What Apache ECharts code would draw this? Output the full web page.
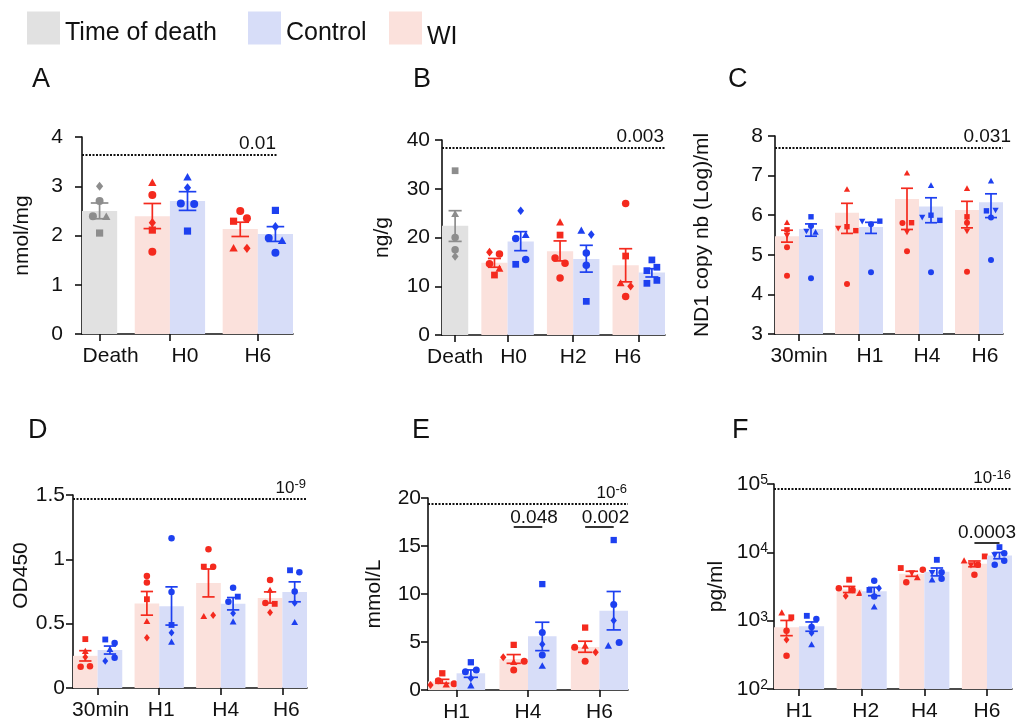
<!DOCTYPE html>
<html><head><meta charset="utf-8">
<script src="https://cdn.jsdelivr.net/npm/echarts@6/dist/echarts.min.js"></script>
<style>html,body{margin:0;padding:0;background:#fff}#c{width:1023px;height:720px}</style>
</head><body><div id="c"></div>
<script>
// ================= DATA =================
// Panel A — nmol/mg
const A_categories = ['Death', 'H0', 'H6'];
const A_death_points = [[3.00, 2.70, 2.39, 2.38, 2.05]];
const A_death_mean = [2.50];
const A_death_hi = [2.66];
const A_death_lo = [2.34];
const A_wi_points = [[3.07, 2.82, 2.26, 2.11, 1.67], [2.29, 2.50, 2.35, 1.74, 1.74]];
const A_wi_mean = [2.39, 2.13];
const A_wi_hi = [2.65, 2.27];
const A_wi_lo = [2.14, 1.98];
const A_ctrl_points = [[3.18, 2.97, 2.65, 2.64, 2.09], [2.51, 2.18, 1.95, 1.89, 1.65]];
const A_ctrl_mean = [2.70, 2.03];
const A_ctrl_hi = [2.89, 2.18];
const A_ctrl_lo = [2.51, 1.88];
const A_pvalue = '0.01';
const A_pLevel = 3.64;

// Panel B — ng/g
const B_categories = ['Death', 'H0', 'H2', 'H6'];
const B_death_points = [[33.7, 24.8, 20.0, 17.5, 16.1]];
const B_death_mean = [22.4];
const B_death_hi = [25.5];
const B_death_lo = [19.2];
const B_wi_points = [[17.0, 16.6, 14.6, 13.6, 12.3], [23.1, 20.5, 15.8, 14.7, 11.7], [27.0, 16.2, 10.6, 10.0, 7.9]];
const B_wi_mean = [14.8, 17.2, 14.3];
const B_wi_hi = [15.7, 19.3, 17.7];
const B_wi_lo = [13.9, 15.2, 10.9];
const B_ctrl_points = [[25.5, 19.8, 20.5, 14.5, 15.5], [21.4, 20.6, 16.8, 14.3, 6.9], [15.4, 13.2, 13.9, 10.6, 11.2]];
const B_ctrl_mean = [19.2, 15.6, 12.8];
const B_ctrl_hi = [21.2, 18.4, 13.6];
const B_ctrl_lo = [17.3, 12.9, 11.9];
const B_pvalue = '0.003';
const B_pLevel = 38.5;

// Panel C — ND1 copy nb (Log)/ml
const C_categories = ['30min', 'H1', 'H4', 'H6'];
const C_wi_points = [[5.81, 5.63, 5.49, 5.19, 4.47], [6.65, 5.67, 5.71, 5.61, 4.26], [7.06, 5.80, 5.81, 5.58, 5.09], [6.67, 5.96, 5.81, 5.60, 4.57]];
const C_wi_mean = [5.47, 6.06, 6.41, 6.13];
const C_wi_hi = [5.62, 6.30, 6.68, 6.35];
const C_wi_lo = [5.32, 5.54, 5.64, 5.68];
const C_ctrl_points = [[5.96, 5.73, 5.60, 5.57, 4.41], [5.85, 5.77, 5.85, 4.56], [6.75, 5.95, 6.00, 5.87, 4.56], [6.86, 6.11, 6.13, 5.94, 4.87]];
const C_ctrl_mean = [5.65, 5.70, 6.22, 6.33];
const C_ctrl_hi = [5.78, 5.82, 6.44, 6.54];
const C_ctrl_lo = [5.47, 5.54, 5.81, 5.94];
const C_pvalue = '0.031';
const C_pLevel = 7.71;

// Panel D — OD450
const D_categories = ['30min', 'H1', 'H4', 'H6'];
const D_wi_points = [[0.38, 0.285, 0.24, 0.165, 0.17], [0.871, 0.82, 0.69, 0.517, 0.39], [1.078, 0.943, 0.943, 0.556, 0.566], [0.84, 0.76, 0.66, 0.654, 0.587]];
const D_wi_mean = [0.25, 0.656, 0.817, 0.70];
const D_wi_hi = [0.29, 0.75, 0.925, 0.747];
const D_wi_lo = [0.21, 0.566, 0.708, 0.66];
const D_ctrl_points = [[0.377, 0.35, 0.30, 0.21, 0.235], [1.164, 0.747, 0.49, 0.43, 0.357], [0.78, 0.67, 0.71, 0.58, 0.514], [0.915, 0.90, 0.75, 0.66, 0.509]];
const D_ctrl_mean = [0.295, 0.636, 0.654, 0.747];
const D_ctrl_hi = [0.326, 0.786, 0.703, 0.825];
const D_ctrl_lo = [0.264, 0.489, 0.607, 0.67];
const D_pvalue = '10^-9';
const D_pLevel = 1.474;

// Panel E — mmol/L
const E_categories = ['H1', 'H4', 'H6'];
const E_wi_points = [[0.52, 0.97, 1.74, 0.56, 0.66], [4.70, 3.41, 2.89, 2.99, 2.09], [6.50, 4.45, 4.59, 3.93, 2.99]];
const E_wi_mean = [0.89, 3.22, 4.49];
const E_wi_hi = [1.11, 3.69, 5.08];
const E_wi_lo = [0.70, 2.78, 3.93];
const E_ctrl_points = [[2.89, 1.91, 2.09, 1.22, 0.45], [11.03, 5.98, 4.77, 3.65, 2.50], [15.62, 8.90, 7.23, 4.59, 4.94]];
const E_ctrl_mean = [1.74, 5.59, 8.26];
const E_ctrl_hi = [2.09, 7.06, 10.26];
const E_ctrl_lo = [1.32, 4.10, 6.26];
const E_pvalue = '10^-6';
const E_pLevel = 19.44;
const E_comparisons = ['H4', 'H6'];
const E_compValues = ['0.048', '0.002'];
const E_compLevels = [17.0, 17.0];

// Panel F — pg/ml (log scale)
const F_categories = ['H1', 'H2', 'H4', 'H6'];
const F_wi_points = [[1300, 1120, 711, 525, 307], [3980, 2990, 2300, 2800, 2510], [5890, 3640, 4990, 4270, 5550], [7520, 6560, 6560, 8710, 4690]];
const F_wi_mean = [800, 2870, 4870, 6810];
const F_wi_hi = [1007, 3170, 5280, 7470];
const F_wi_lo = [603, 2580, 4460, 6150];
const F_ctrl_points = [[1177, 1054, 806, 658, 444], [3830, 2820, 2990, 2260, 1585], [7770, 5070, 5130, 3960, 4100], [11920, 9200, 9720, 6560, 7520]];
const F_ctrl_mean = [828, 2700, 5210, 8980];
const F_ctrl_hi = [958, 3070, 5900, 9950];
const F_ctrl_lo = [700, 2320, 4520, 8050];
const F_pvalue = '10^-16';
const F_pLevel = 85700;
const F_comparisons = ['H6'];
const F_compValues = ['0.0003'];
const F_compLevels = [14000];

// ================= STYLE (symbol shape per animal) =================
const A_death_shapes = [['diamond', 'circle', 'circle', 'triangle', 'rect']];
const A_wi_shapes = [['triangle', 'circle', 'diamond', 'rect', 'circle'], ['rect', 'circle', 'circle', 'triangle', 'diamond']];
const A_ctrl_shapes = [['triangle', 'diamond', 'circle', 'circle', 'rect'], ['rect', 'diamond', 'circle', 'triangle', 'circle']];
const B_death_shapes = [['rect', 'triangle', 'circle', 'circle', 'diamond']];
const B_wi_shapes = [['diamond', 'circle', 'circle', 'triangle', 'rect'], ['triangle', 'rect', 'circle', 'circle', 'circle'], ['circle', 'rect', 'triangle', 'diamond', 'circle']];
const B_ctrl_shapes = [['diamond', 'circle', 'triangle', 'rect', 'circle'], ['triangle', 'diamond', 'circle', 'circle', 'rect'], ['rect', 'rect', 'rect', 'rect', 'rect']];
const C_wi_shapes = [['triangle', 'rect', 'invtri', 'circle', 'circle'], ['triangle', 'invtri', 'rect', 'rect', 'circle'], ['triangle', 'circle', 'rect', 'invtri', 'circle'], ['triangle', 'rect', 'circle', 'invtri', 'circle']];
const C_ctrl_shapes = [['rect', 'circle', 'invtri', 'triangle', 'circle'], ['invtri', 'circle', 'rect', 'circle'], ['triangle', 'invtri', 'rect', 'rect', 'circle'], ['triangle', 'rect', 'invtri', 'circle', 'circle']];
const D_wi_shapes = [['rect', 'triangle', 'diamond', 'circle', 'circle'], ['circle', 'circle', 'rect', 'triangle', 'diamond'], ['circle', 'rect', 'circle', 'triangle', 'diamond'], ['circle', 'triangle', 'circle', 'rect', 'diamond']];
const D_ctrl_shapes = [['rect', 'circle', 'triangle', 'diamond', 'circle'], ['circle', 'circle', 'rect', 'diamond', 'triangle'], ['circle', 'circle', 'rect', 'diamond', 'triangle'], ['rect', 'circle', 'circle', 'diamond', 'triangle']];
const E_wi_shapes = [['diamond', 'circle', 'rect', 'triangle', 'circle'], ['rect', 'diamond', 'triangle', 'circle', 'circle'], ['rect', 'circle', 'triangle', 'diamond', 'circle']];
const E_ctrl_shapes = [['rect', 'circle', 'circle', 'diamond', 'triangle'], ['rect', 'circle', 'diamond', 'circle', 'triangle'], ['rect', 'circle', 'diamond', 'triangle', 'circle']];
const F_wi_shapes = [['triangle', 'rect', 'circle', 'diamond', 'circle'], ['rect', 'circle', 'diamond', 'circle', 'triangle'], ['rect', 'circle', 'invtri', 'triangle', 'circle'], ['triangle', 'invtri', 'circle', 'rect', 'circle']];
const F_ctrl_shapes = [['rect', 'circle', 'circle', 'diamond', 'triangle'], ['circle', 'rect', 'diamond', 'circle', 'triangle'], ['rect', 'invtri', 'circle', 'triangle', 'circle'], ['rect', 'invtri', 'circle', 'circle', 'circle']];

// ================= LAYOUT =================
const FONT = '"Liberation Sans", Arial, Helvetica, sans-serif';
const INK = '#111111';
const NAMES = { death: 'Time of death', wi: 'WI', ctrl: 'Control' };
const FILL = { death: '#e1e1e1', wi: '#fbe1dc', ctrl: '#d7ddf8' };
const MARK = { death: '#8d8d8d', wi: '#f42a1e', ctrl: '#1d40f0' };

function grp(points, mean, hi, lo, shapes) { return { points, mean, hi, lo, shapes }; }

const PANELS = [
  { letter: 'A', lpos: [32, 66], grid: { left: 82, top: 137, width: 211, height: 197 },
    y: { type: 'value', min: 0, max: 4, interval: 1 }, yName: 'nmol/mg', nameGap: 49, namePad: 0, yMargin: 19, sym: 8,
    xShift: [11, 15, 0], pShift: 0, compShift: 0,
    cats: A_categories,
    death: grp(A_death_points, A_death_mean, A_death_hi, A_death_lo, A_death_shapes),
    wi: grp(A_wi_points, A_wi_mean, A_wi_hi, A_wi_lo, A_wi_shapes),
    ctrl: grp(A_ctrl_points, A_ctrl_mean, A_ctrl_hi, A_ctrl_lo, A_ctrl_shapes),
    p: A_pvalue, pLevel: A_pLevel, pEndFrac: 0.924, comps: [], compValues: [], compLevels: [] },
  { letter: 'B', lpos: [413, 66], grid: { left: 442, top: 140, width: 223, height: 195 },
    y: { type: 'value', min: 0, max: 40, interval: 10 }, yName: 'ng/g', nameGap: 49, namePad: 0, yMargin: 12, sym: 7.5,
    xShift: [0, 6, 0, -11], pShift: 0, compShift: 0,
    cats: B_categories,
    death: grp(B_death_points, B_death_mean, B_death_hi, B_death_lo, B_death_shapes),
    wi: grp(B_wi_points, B_wi_mean, B_wi_hi, B_wi_lo, B_wi_shapes),
    ctrl: grp(B_ctrl_points, B_ctrl_mean, B_ctrl_hi, B_ctrl_lo, B_ctrl_shapes),
    p: B_pvalue, pLevel: B_pLevel, pEndFrac: 1, comps: [], compValues: [], compLevels: [] },
  { letter: 'C', lpos: [728, 66], grid: { left: 775, top: 136, width: 228, height: 198 },
    y: { type: 'value', min: 3, max: 8, interval: 1 }, yName: 'ND1 copy nb (Log)/ml', nameGap: 62, namePad: 0, yMargin: 12, sym: 6,
    xShift: [0, 11, 8, 6], pShift: 9, compShift: 0,
    cats: C_categories, death: null,
    wi: grp(C_wi_points, C_wi_mean, C_wi_hi, C_wi_lo, C_wi_shapes),
    ctrl: grp(C_ctrl_points, C_ctrl_mean, C_ctrl_hi, C_ctrl_lo, C_ctrl_shapes),
    p: C_pvalue, pLevel: C_pLevel, pEndFrac: 1, comps: [], compValues: [], compLevels: [] },
  { letter: 'D', lpos: [28, 417], grid: { left: 73, top: 495, width: 234, height: 193 },
    y: { type: 'value', min: 0, max: 1.5, interval: 0.5 }, yName: 'OD450', nameGap: 38, namePad: 32, yMargin: 8, sym: 6.5,
    xShift: [3, 2, 5, 4], pShift: 0, compShift: 0,
    cats: D_categories, death: null,
    wi: grp(D_wi_points, D_wi_mean, D_wi_hi, D_wi_lo, D_wi_shapes),
    ctrl: grp(D_ctrl_points, D_ctrl_mean, D_ctrl_hi, D_ctrl_lo, D_ctrl_shapes),
    p: D_pvalue, pLevel: D_pLevel, pEndFrac: 1, comps: [], compValues: [], compLevels: [] },
  { letter: 'E', lpos: [412, 417], grid: { left: 428, top: 498, width: 200, height: 192 },
    y: { type: 'value', min: 0, max: 20, interval: 5 }, yName: 'mmol/L', nameGap: 43, namePad: 0, yMargin: 7, sym: 7,
    xShift: [0, 0, 0], pShift: 0, compShift: 6,
    cats: E_categories, death: null,
    wi: grp(E_wi_points, E_wi_mean, E_wi_hi, E_wi_lo, E_wi_shapes),
    ctrl: grp(E_ctrl_points, E_ctrl_mean, E_ctrl_hi, E_ctrl_lo, E_ctrl_shapes),
    p: E_pvalue, pLevel: E_pLevel, pEndFrac: 1, comps: E_comparisons, compValues: E_compValues, compLevels: E_compLevels },
  { letter: 'F', lpos: [732, 417], grid: { left: 774, top: 484, width: 238, height: 205 },
    y: { type: 'log', min: 100, max: 100000, logBase: 10 }, yName: 'pg/ml', nameGap: 47, namePad: 0, yMargin: 6, sym: 6.5,
    xShift: [0, 4, 0, 0], pShift: 0, compShift: 0,
    cats: F_categories, death: null,
    wi: grp(F_wi_points, F_wi_mean, F_wi_hi, F_wi_lo, F_wi_shapes),
    ctrl: grp(F_ctrl_points, F_ctrl_mean, F_ctrl_hi, F_ctrl_lo, F_ctrl_shapes),
    p: F_pvalue, pLevel: F_pLevel, pEndFrac: 1, comps: F_comparisons, compValues: F_compValues, compLevels: F_compLevels }
];

// Prism-like horizontal spread of overlapping points
function swarm(ys, bw, sym) {
  const thr = 0.8 * sym;
  const order = ys.map((y, i) => i).sort((a, b) => ys[a] - ys[b]);
  const offs = ys.map(() => 0);
  let cl = [order[0]];
  const flush = () => {
    const k = cl.length;
    if (k > 1) {
      const s = Math.min(0.38 * bw, 1.1 * bw / k);
      cl.slice().sort((a, b) => a - b).forEach((i, r) => { offs[i] = (r - (k - 1) / 2) * s; });
    }
  };
  for (let n = 1; n < order.length; n++) {
    if (ys[order[n]] - ys[order[n - 1]] < thr) cl.push(order[n]);
    else { flush(); cl = [order[n]]; }
  }
  flush();
  return offs;
}

function symbolEl(shape, x, y, s, color) {
  const st = { fill: color };
  const h = s / 2;
  if (shape === 'circle') return { type: 'circle', shape: { cx: x, cy: y, r: h }, style: st };
  if (shape === 'rect') return { type: 'rect', shape: { x: x - h * 0.9, y: y - h * 0.9, width: s * 0.9, height: s * 0.9 }, style: st };
  if (shape === 'triangle') return { type: 'polygon', shape: { points: [[x, y - h * 1.1], [x + h * 1.05, y + h * 0.8], [x - h * 1.05, y + h * 0.8]] }, style: st };
  if (shape === 'invtri') return { type: 'polygon', shape: { points: [[x, y + h * 1.1], [x + h * 1.05, y - h * 0.8], [x - h * 1.05, y - h * 0.8]] }, style: st };
  return { type: 'polygon', shape: { points: [[x, y - h * 1.15], [x + h * 0.9, y], [x, y + h * 1.15], [x - h * 0.9, y]] }, style: st };
}

function supText(t) {
  if (t.indexOf('^') < 0) return t;
  const parts = t.split('^');
  return parts[0] + '{s|' + parts[1] + '}';
}

// legend: icon box top near 12, text pushed down by padTop/2 relative to icon centre
function legendItem(name, left, padTop) {
  const lh = 30, h = lh + padTop;
  return { data: [name], left, top: 14 - Math.max(0, h - 33) / 2, padding: 0, itemWidth: 33, itemHeight: 33, icon: 'rect', selectedMode: false,
    formatter: n => '{t|' + n + '}',
    textStyle: { fontSize: 25, color: INK, fontFamily: FONT,
      rich: { t: { fontSize: 25, color: INK, fontFamily: FONT, lineHeight: lh, padding: [padTop, 0, 0, 0] } } } };
}

const option = {
  backgroundColor: '#ffffff',
  animation: false,
  textStyle: { fontFamily: FONT },
  title: [], grid: [], xAxis: [], yAxis: [], series: [],
  legend: [legendItem('Time of death', 27, 10), legendItem('Control', 248, 10), legendItem('WI', 389, 19)]
};

PANELS.forEach((P, k) => {
  // group layout in "units": each bar 2 units, 1 unit gap between groups
  const groups = [];
  let cur = 0;
  P.cats.forEach((c, i) => {
    const n = (i === 0 && P.death) ? 1 : 2;
    groups.push({ name: c, start: cur, center: cur + n, bars: n });
    cur += 2 * n + 1;
  });
  const total = cur - 1;
  const centers = groups.map(g => g.center);
  const yMin = P.y.min;

  option.title.push({ text: P.letter, left: P.lpos[0], top: P.lpos[1], padding: 0,
    textStyle: { fontSize: 27, fontWeight: 'normal', color: INK, fontFamily: FONT } });
  option.grid.push(Object.assign({ containLabel: false, outerBoundsMode: 'none' }, P.grid));

  const xRich = {};
  groups.forEach((g, i) => {
    const s = P.xShift[i] || 0;
    xRich['o' + i] = { fontSize: 21, color: INK, fontFamily: FONT, padding: s >= 0 ? [0, 0, 0, 2 * s] : [0, -2 * s, 0, 0] };
  });
  option.xAxis.push({
    type: 'value', gridIndex: k, min: 0, max: total,
    axisLine: { show: true, onZero: false, lineStyle: { color: INK, width: 1.6 } },
    axisTick: { show: true, length: 7, customValues: centers, lineStyle: { color: INK, width: 1.6 } },
    axisLabel: { show: true, customValues: centers, margin: 12, fontSize: 21, color: INK, fontFamily: FONT, rich: xRich,
      formatter: v => { const i = groups.findIndex(q => Math.abs(q.center - v) < 1e-6); return i >= 0 ? '{o' + i + '|' + groups[i].name + '}' : ''; } },
    splitLine: { show: false }
  });
  const yAx = Object.assign({}, P.y, {
    gridIndex: k,
    name: P.yName, nameLocation: 'middle', nameGap: P.nameGap,
    nameTextStyle: { fontSize: 21, color: INK, fontFamily: FONT, padding: [0, 0, 0, P.namePad] },
    axisLine: { show: true, onZero: false, lineStyle: { color: INK, width: 1.6 } },
    axisTick: { show: true, length: 7, lineStyle: { color: INK, width: 1.6 } },
    minorTick: { show: false },
    axisLabel: { margin: P.yMargin, fontSize: 21, color: INK, fontFamily: FONT },
    splitLine: { show: false }
  });
  if (P.y.type === 'log') {
    yAx.axisLabel.formatter = v => '10{s|' + Math.round(Math.log10(v)) + '}';
    yAx.axisLabel.rich = { s: { fontSize: 14, verticalAlign: 'top', color: INK, fontFamily: FONT, padding: [0, 0, 8, 0] } };
  }
  option.yAxis.push(yAx);

  const addSeries = (kind, G, firstGroup) => {
    const data = G.mean.map((m, j) => {
      const g = groups[firstGroup + j];
      const x0 = g.start + (kind === 'ctrl' ? 2 : 0);
      return [x0, x0 + 2, m, G.hi[j], G.lo[j]];
    });
    option.series.push({
      type: 'custom', name: NAMES[kind], xAxisIndex: k, yAxisIndex: k, clip: false,
      itemStyle: { color: FILL[kind] }, encode: { x: [0, 1], y: [2, 3, 4] }, data,
      renderItem: function (params, api) {
        const j = params.dataIndex;
        const x0 = api.value(0), x1 = api.value(1);
        const xm = (x0 + x1) / 2;
        const tl = api.coord([x0, api.value(2)]);
        const br = api.coord([x1, yMin]);
        const bw = br[0] - tl[0];
        const cx = tl[0] + bw / 2;
        const children = [{ type: 'rect', shape: { x: tl[0], y: tl[1], width: bw, height: br[1] - tl[1] }, style: { fill: FILL[kind] } }];
        const yh = api.coord([xm, api.value(3)])[1];
        const yl = api.coord([xm, api.value(4)])[1];
        const cw = bw * 0.25;
        const ls = { stroke: MARK[kind], lineWidth: 1.7 };
        children.push({ type: 'line', shape: { x1: cx, y1: yh, x2: cx, y2: yl }, style: ls });
        children.push({ type: 'line', shape: { x1: cx - cw, y1: yh, x2: cx + cw, y2: yh }, style: ls });
        children.push({ type: 'line', shape: { x1: cx - cw, y1: yl, x2: cx + cw, y2: yl }, style: ls });
        const pts = G.points[j], shp = G.shapes[j];
        const ys = pts.map(v => api.coord([xm, v])[1]);
        const offs = swarm(ys, bw, P.sym);
        pts.forEach((v, i) => children.push(symbolEl(shp[i], cx + offs[i], ys[i], P.sym, MARK[kind])));
        return { type: 'group', children };
      }
    });
  };
  if (P.death) addSeries('death', P.death, 0);
  addSeries('wi', P.wi, P.death ? 1 : 0);
  addSeries('ctrl', P.ctrl, P.death ? 1 : 0);

  // significance lines
  const isExp = P.p.indexOf('^') >= 0;
  const mlData = [[
    { coord: [0, P.pLevel], lineStyle: { type: [2, 1.5], width: 2, color: INK },
      label: { show: true, position: 'insideEndTop', distance: 1, offset: [P.pShift, 0], formatter: supText(P.p),
        fontSize: isExp ? 17 : 19, color: INK, fontFamily: FONT,
        rich: { s: { fontSize: 13, verticalAlign: 'top', color: INK, fontFamily: FONT, padding: [0, 0, 6, 0] } } } },
    { coord: [total * P.pEndFrac, P.pLevel] }
  ]];
  P.comps.forEach((c, i) => {
    const g = groups.find(q => q.name === c);
    mlData.push([
      { coord: [g.start + 1, P.compLevels[i]], lineStyle: { type: 'solid', width: 1.7, color: INK },
        label: { show: true, position: 'insideMiddleTop', distance: 0, offset: [P.compShift, 0], formatter: P.compValues[i], fontSize: 19, color: INK, fontFamily: FONT } },
      { coord: [g.start + 3, P.compLevels[i]] }
    ]);
  });
  option.series.push({
    type: 'line', name: 'sig' + k, xAxisIndex: k, yAxisIndex: k, data: [], silent: true,
    markLine: { symbol: 'none', silent: true, animation: false, data: mlData }
  });
});

const chart = echarts.init(document.getElementById('c'), null, { renderer: 'canvas' });
chart.setOption(option);
</script></body></html>
